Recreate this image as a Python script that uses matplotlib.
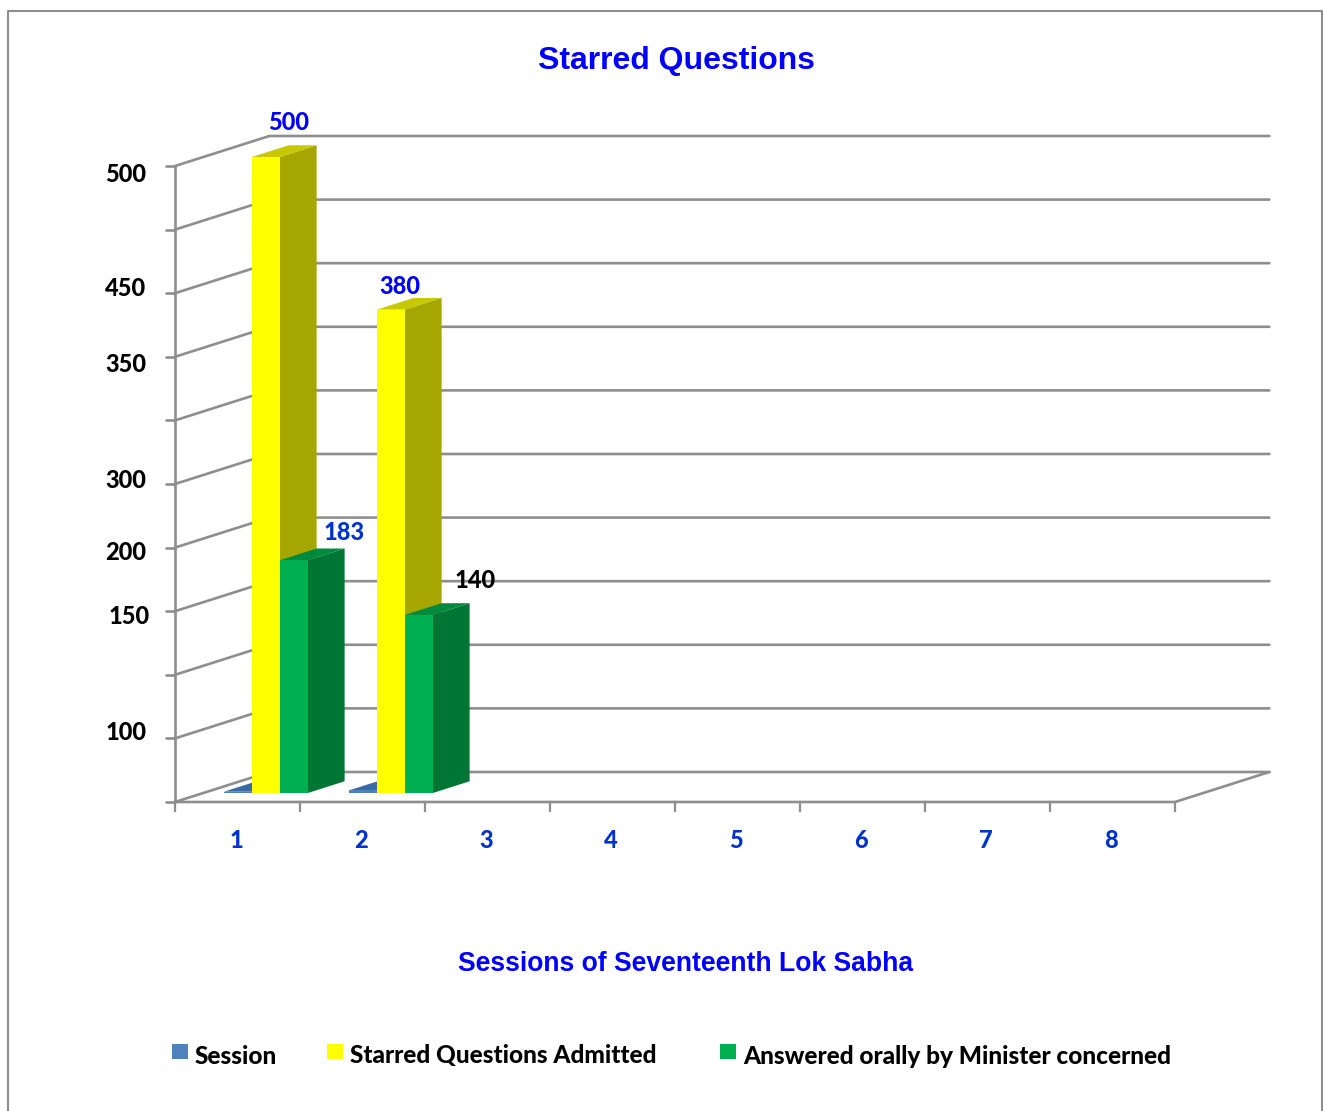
import matplotlib
matplotlib.use("Agg")
import matplotlib.pyplot as plt
from matplotlib.patches import Polygon, Rectangle
from matplotlib.transforms import Affine2D

# values
sessions = [1, 2, 3, 4, 5, 6, 7, 8]
session_values = [1, 2]
admitted = [500, 380]
answered = [183, 140]
grid_values = [0, 50, 100, 150, 200, 250, 300, 350, 400, 450, 500]
y_labels = ["500", "450", "350", "300", "200", "150", "100"]
bar_labels = ["500", "380", "183", "140"]

W, H = 1324, 1111
GRAY = "#8e8e8e"
BLUE = "#0000ff"
CAT_BLUE = "#0033cc"

# depth of the fake 3d box, in data units (95 px and 30 px on the picture)
DX = 0.755
DY = 23.6
BAR_W = 0.224
FRONT = 0.30   # where the bar front sits inside the depth
BAR_D = 0.39   # how deep the bar is

fig = plt.figure(figsize=(W / 100, H / 100), dpi=100)
ax = fig.add_axes([0, 0, 1, 1])
# one category = 125 px, 1 question = 1.272 px
ax.set_xlim(0.5 - 175 / 125, 0.5 + (W - 175) / 125)
ax.set_ylim((802 - H) / 1.272, 802 / 1.272)
ax.axis("off")

# for text and frame placed by pixel, y going down
px = Affine2D().scale(1, -1).translate(0, H)


def draw_bar(cat, offset, value, front, side, top, z):
    x0 = cat + offset + FRONT * DX
    y0 = FRONT * DY
    x1 = x0 + BAR_W
    y1 = y0 + value
    ddx = BAR_D * DX
    ddy = BAR_D * DY
    ax.add_patch(Polygon([(x1, y0), (x1 + ddx, y0 + ddy), (x1 + ddx, y1 + ddy), (x1, y1)],
                         fc=side, ec="none", zorder=z))
    ax.add_patch(Polygon([(x0, y1), (x1, y1), (x1 + ddx, y1 + ddy), (x0 + ddx, y1 + ddy)],
                         fc=top, ec="none", zorder=z))
    ax.add_patch(Rectangle((x0, y0), BAR_W, value, fc=front, ec="none", zorder=z + 0.1))


# walls and floor
x_left = 0.5
x_right = 8.5
line = dict(color=GRAY, lw=1.9, solid_capstyle="round", zorder=1)
for v in grid_values:
    ax.plot([x_left, x_left + DX, x_right + DX], [v, v + DY, v + DY], **line)
    ax.plot([x_left - 0.07, x_left], [v, v], **line)
ax.plot([x_left, x_left], [0, grid_values[-1]], **line)
ax.plot([x_left, x_right, x_right + DX], [0, 0, DY], **line)
for i in range(len(sessions) + 1):
    ax.plot([x_left + i, x_left + i], [0, -7], color=GRAY, lw=1.6, zorder=1)

# bars
for i, v in enumerate(session_values):
    draw_bar(sessions[i], -BAR_W * 1.5, v, "#4f81bd", "#335f94", "#3a6aa3", 2)
for i, v in enumerate(admitted):
    draw_bar(sessions[i], -BAR_W * 0.5, v, "#ffff00", "#a6a600", "#c8c800", 3 + i * 2)
for i, v in enumerate(answered):
    draw_bar(sessions[i], BAR_W * 0.5, v, "#00b050", "#007635", "#008a3e", 4 + i * 2)

# category labels
for s in sessions:
    ax.text(s - 0.012, -30.2, str(s), ha="center", va="center", color=CAT_BLUE,
            family="Lato", weight="black", fontsize=17, transform=ax.transData)

# texts by pixel position
title_font = dict(family="Liberation Sans", weight="bold", color=BLUE)
lab_font = dict(family="Lato", weight="black")


def put(x, y, s, **kw):
    ax.text(x, y, s, transform=px, va="center", **kw)


put(676, 61, "Starred Questions", ha="center", fontsize=23, **title_font)
put(686, 964, "Sessions of Seventeenth Lok Sabha", ha="center", fontsize=19.1, **title_font)

y_label_pos = [174, 289, 364, 481, 552, 617, 733]
y_label_x = [146, 146, 146, 146, 146, 150, 147]
for t, x, y in zip(y_labels, y_label_x, y_label_pos):
    put(x, y, t, ha="right", color="black", fontsize=17, **lab_font)

bar_label_pos = [(289, 123), (400, 287), (344, 532), (475, 581)]
bar_label_col = [BLUE, BLUE, CAT_BLUE, "black"]
for t, (x, y), c in zip(bar_labels, bar_label_pos, bar_label_col):
    put(x, y, t, ha="center", color=c, zorder=20, fontsize=17, **lab_font)

# legend
legend_names = ["Session", "Starred Questions Admitted", "Answered orally by Minister concerned"]
legend_colors = ["#4f81bd", "#ffff00", "#00b050"]
legend_box_x = [172, 327, 720]
for name, c, x in zip(legend_names, legend_colors, legend_box_x):
    ax.add_patch(Rectangle((x, 1044), 16, 15, fc=c, ec="none", transform=px))
    put(x + 23, 1056, name, ha="left", color="black", fontsize=17.6, **lab_font)

# outer frame, open at the bottom
ax.plot([8, 8, 1322, 1322], [H, 11, 11, H], transform=px, color=GRAY, lw=1.5, zorder=0)

fig.savefig("out.png", dpi=100)
